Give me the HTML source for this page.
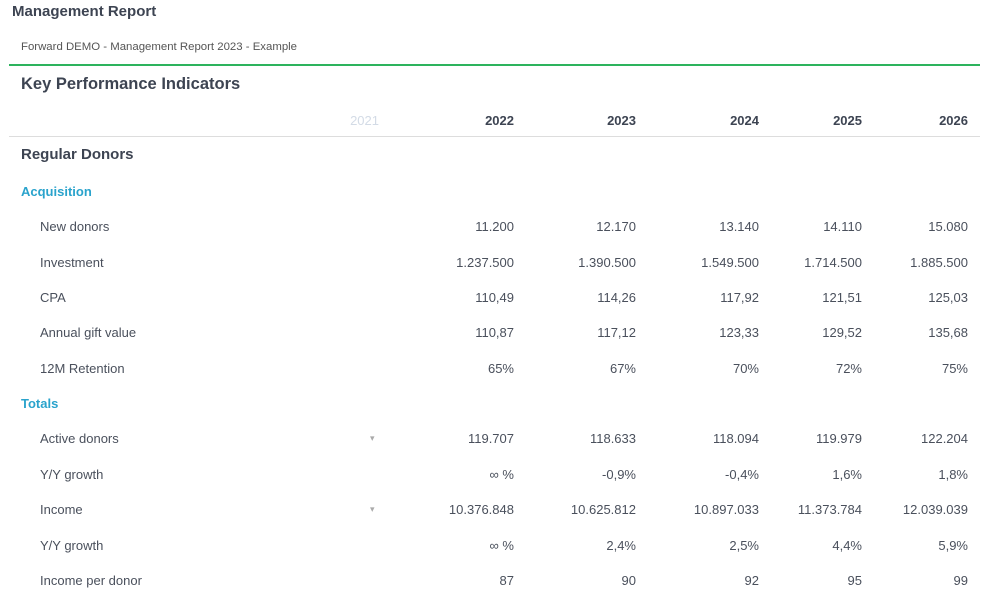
<!DOCTYPE html>
<html><head><meta charset="utf-8"><style>
body{margin:0;width:1000px;height:600px;background:#fff;font-family:"Liberation Sans",sans-serif;position:relative;overflow:hidden;color:#3d4452}
.a{position:absolute;white-space:nowrap}
.r{position:absolute;white-space:nowrap;text-align:right;font-size:13px;color:#4a505c}
.l{position:absolute;left:40px;font-size:13px;color:#4a505c}
.h{position:absolute;font-size:13px;font-weight:bold;color:#3d4452;text-align:right}
.c{position:absolute;left:21px;font-size:13px;font-weight:bold;color:#2aa3cc}
.t{position:absolute;font-size:9px;color:#aaa;left:370px}
</style></head><body>
<div class="a" style="left:12px;top:3px;font-size:15px;font-weight:bold;color:#3d4452">Management Report</div>
<div class="a" style="left:21px;top:41px;font-size:11.4px;color:#555">Forward DEMO - Management Report 2023 - Example</div>
<div class="a" style="left:9px;top:64px;width:971px;height:2px;background:#2db35d"></div>
<div class="a" style="left:21px;top:75px;font-size:16.5px;font-weight:bold;color:#3d4452">Key Performance Indicators</div>
<div class="h" style="right:621px;top:113px;color:#d3dbe6;font-weight:normal">2021</div>
<div class="h" style="right:486px;top:113px">2022</div>
<div class="h" style="right:364px;top:113px">2023</div>
<div class="h" style="right:241px;top:113px">2024</div>
<div class="h" style="right:138px;top:113px">2025</div>
<div class="h" style="right:32px;top:113px">2026</div>
<div class="a" style="left:9px;top:136px;width:971px;height:1px;background:#ddd"></div>
<div class="a" style="left:21px;top:146px;font-size:15px;font-weight:bold;color:#3d4452">Regular Donors</div>
<div class="c" style="top:184px">Acquisition</div>
<div class="c" style="top:396px">Totals</div>
<div id="rows"></div>
<script>
var rows=[[219,"New donors",["11.200","12.170","13.140","14.110","15.080"]],
[255,"Investment",["1.237.500","1.390.500","1.549.500","1.714.500","1.885.500"]],
[290,"CPA",["110,49","114,26","117,92","121,51","125,03"]],
[325,"Annual gift value",["110,87","117,12","123,33","129,52","135,68"]],
[361,"12M Retention",["65%","67%","70%","72%","75%"]],
[431,"Active donors",["119.707","118.633","118.094","119.979","122.204"],1],
[467,"Y/Y growth",["∞ %","-0,9%","-0,4%","1,6%","1,8%"]],
[502,"Income",["10.376.848","10.625.812","10.897.033","11.373.784","12.039.039"],1],
[538,"Y/Y growth",["∞ %","2,4%","2,5%","4,4%","5,9%"]],
[573,"Income per donor",["87","90","92","95","99"]]];
var R=[486,364,241,138,32],h="";
rows.forEach(function(r){h+='<div class="l" style="top:'+r[0]+'px">'+r[1]+'</div>';
if(r[3])h+='<div class="t" style="top:'+(r[0]+2)+'px">▾</div>';
r[2].forEach(function(v,i){h+='<div class="r" style="top:'+r[0]+'px;right:'+R[i]+'px">'+v+'</div>'})});
document.getElementById('rows').innerHTML=h;
</script>
</body></html>
